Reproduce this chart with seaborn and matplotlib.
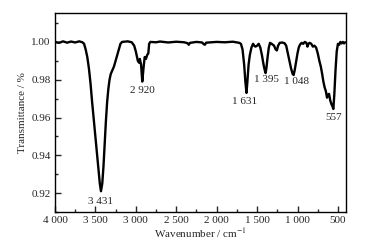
import matplotlib
matplotlib.use("Agg")
import matplotlib.pyplot as plt
import pandas as pd
import seaborn as sns
from matplotlib.ticker import MultipleLocator

# FTIR spectrum
wavenumber = [4000, 3950, 3900, 3850, 3800, 3750, 3700, 3660, 3640, 3620, 3600,
              3580, 3560, 3540, 3520, 3500, 3480, 3460, 3445, 3431, 3415, 3400,
              3385, 3370, 3355, 3340, 3325, 3310, 3290, 3270, 3250, 3230, 3210,
              3190, 3170, 3100, 3050, 3020, 3000, 2975, 2960, 2950, 2935, 2920,
              2905, 2890, 2875, 2860, 2845, 2835, 2820, 2750, 2700, 2600, 2500,
              2400, 2360, 2345, 2330, 2250, 2180, 2160, 2145, 2130, 2000, 1900,
              1800, 1720, 1700, 1680, 1660, 1645, 1631, 1620, 1605, 1590, 1570,
              1550, 1535, 1520, 1500, 1480, 1460, 1440, 1420, 1405, 1395, 1385,
              1370, 1355, 1340, 1320, 1290, 1270, 1255, 1240, 1220, 1190, 1160,
              1140, 1120, 1100, 1080, 1060, 1048, 1035, 1020, 1000, 985, 970,
              950, 930, 910, 890, 877, 865, 850, 830, 810, 790, 770, 750, 730,
              712, 695, 680, 665, 650, 635, 625, 610, 595, 580, 568, 557, 545,
              530, 515, 500, 485, 470, 455, 440, 425, 410]
transmittance = [1.000, 0.9995, 1.0003, 0.9996, 1.0002, 0.9997, 1.0003, 0.9998,
                 0.999, 0.996, 0.992, 0.986, 0.978, 0.968, 0.959, 0.950, 0.941,
                 0.932, 0.925, 0.921, 0.925, 0.934, 0.946, 0.958, 0.968, 0.975,
                 0.980, 0.983, 0.985, 0.987, 0.990, 0.993, 0.996, 0.999, 1.000,
                 1.0003, 0.9998, 0.998, 0.995, 0.990, 0.989, 0.991, 0.988, 0.979,
                 0.986, 0.992, 0.991, 0.993, 0.994, 0.999, 1.000, 0.9998, 1.0002,
                 0.9997, 1.0001, 0.9998, 0.9993, 0.9985, 0.9995, 1.000, 0.9997,
                 0.9988, 0.9985, 0.9996, 1.000, 0.9998, 1.0001, 0.9995, 0.999,
                 0.996, 0.988, 0.979, 0.973, 0.979, 0.988, 0.993, 0.997, 0.999,
                 0.998, 0.9975, 0.998, 0.999, 0.997, 0.993, 0.988, 0.985, 0.9835,
                 0.986, 0.992, 0.997, 0.9995, 0.999, 0.998, 0.996, 0.9955, 0.998,
                 0.9995, 0.9997, 0.9993, 0.998, 0.994, 0.990, 0.986, 0.983,
                 0.9825, 0.985, 0.989, 0.994, 0.997, 0.9985, 0.9995, 0.999, 1.000,
                 0.9995, 0.9975, 0.999, 0.9995, 0.999, 0.9975, 0.998, 0.997,
                 0.994, 0.990, 0.987, 0.983, 0.979, 0.976, 0.974, 0.9705, 0.972,
                 0.9725, 0.969, 0.967, 0.966, 0.9645, 0.972, 0.985, 0.995, 0.999,
                 0.9985, 1.000, 0.9992, 1.000, 0.9992, 0.9998]

peak_labels = ["3 431", "2 920", "1 631", "1 395", "1 048", "557"]
peak_x = [3431, 2922, 1661, 1388, 1015, 550]
peak_y = [0.9155, 0.9745, 0.9685, 0.980, 0.979, 0.960]

xtick_values = [4000, 3500, 3000, 2500, 2000, 1500, 1000, 500]
xtick_labels = ["4 000", "3 500", "3 000", "2 500", "2 000", "1 500", "1 000", "500"]
ytick_values = [0.92, 0.94, 0.96, 0.98, 1.00]
ytick_labels = ["0.92", "0.94", "0.96", "0.98", "1.00"]

df = pd.DataFrame({"wavenumber": wavenumber, "transmittance": transmittance})

sns.set_style("ticks")
plt.rcParams["font.family"] = ["Liberation Serif", "DejaVu Serif"]
plt.rcParams["mathtext.fontset"] = "stix"

fig, ax = plt.subplots(figsize=(3.79, 2.5), dpi=100)
fig.subplots_adjust(left=0.145, right=0.913, top=0.948, bottom=0.152)

sns.lineplot(data=df, x="wavenumber", y="transmittance", sort=False,
             color="black", linewidth=1.7, ax=ax)

for label, x, y in zip(peak_labels, peak_x, peak_y):
    ax.text(x, y, label, ha="center", va="center", fontsize=8)

ax.set_xlim(4000, 400)
ax.set_ylim(0.91, 1.0153)
ax.set_xticks(xtick_values)
ax.set_xticklabels(xtick_labels)
ax.set_yticks(ytick_values)
ax.set_yticklabels(ytick_labels)
ax.xaxis.set_minor_locator(MultipleLocator(250))
ax.yaxis.set_minor_locator(MultipleLocator(0.01))
ax.tick_params(which="both", direction="in", labelsize=8, width=1,
               top=False, right=False)
ax.tick_params(which="major", length=4, pad=3)
ax.tick_params(which="minor", length=2)
for spine in ax.spines.values():
    spine.set_visible(True)
    spine.set_linewidth(1)
    spine.set_color("black")

ax.set_xlabel("Wavenumber / cm$^{-1}$", fontsize=8, labelpad=1)
ax.set_ylabel("Transmittance / %", fontsize=8, labelpad=3)

fig.savefig("out.png", dpi=100)
